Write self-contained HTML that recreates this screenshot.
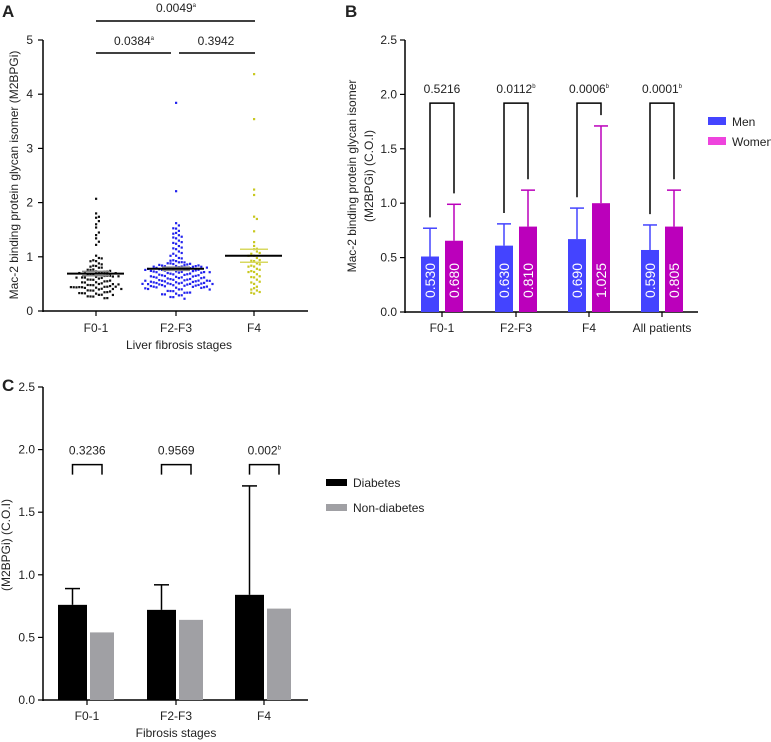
<!DOCTYPE html>
<html><head><meta charset="utf-8">
<style>
html,body{margin:0;padding:0;background:#fff;}
svg{display:block;font-family:"Liberation Sans",sans-serif;}
text{fill:#222;}
</style></head>
<body>
<svg id="root" width="771" height="742" viewBox="0 0 771 742">
<g id="pa"></g>
<g id="pb"></g>
<g id="pc"></g>
</svg>
<script>
// ---------- Panel A data ----------
const aCategories = ["F0-1","F2-F3","F4"];
const aTicks = [0,1,2,3,4,5];
const aF01 = [2.05,1.78,1.74,1.70,1.66,1.58,1.52,1.45,1.38,1.32,1.28,1.20,1.0,0.98,0.96,0.95,0.92,0.90,0.88,0.86,0.84,0.82,0.81,0.80,0.79,0.78,0.76,0.75,0.74,0.73,0.72,0.71,0.70,0.70,0.69,0.68,0.67,0.66,0.65,0.64,0.63,0.62,0.61,0.60,0.60,0.59,0.58,0.57,0.56,0.55,0.55,0.54,0.53,0.52,0.51,0.50,0.50,0.49,0.48,0.47,0.46,0.45,0.45,0.44,0.44,0.43,0.42,0.41,0.40,0.40,0.39,0.38,0.37,0.36,0.35,0.35,0.34,0.33,0.32,0.31,0.30,0.30,0.29,0.28,0.27,0.26,0.25,0.24,0.45,0.46,0.47,0.44,0.43,0.42,0.66,0.68,0.70,0.72,0.64,0.62];
const aF23 = [3.82,2.19,1.60,1.58,1.55,1.50,1.48,1.45,1.42,1.40,1.38,1.35,1.32,1.30,1.28,1.25,1.22,1.20,1.18,1.15,1.12,1.10,1.08,1.05,1.02,1.0,0.98,0.96,0.95,0.93,0.92,0.90,0.90,0.89,0.88,0.88,0.87,0.86,0.86,0.85,0.85,0.84,0.84,0.83,0.83,0.82,0.82,0.81,0.81,0.80,0.80,0.79,0.79,0.78,0.78,0.77,0.77,0.76,0.76,0.75,0.75,0.74,0.74,0.73,0.73,0.72,0.72,0.71,0.71,0.70,0.70,0.69,0.69,0.68,0.68,0.67,0.67,0.66,0.66,0.65,0.65,0.64,0.64,0.63,0.63,0.62,0.62,0.61,0.61,0.60,0.60,0.59,0.59,0.58,0.58,0.57,0.57,0.56,0.56,0.55,0.55,0.54,0.54,0.53,0.53,0.52,0.52,0.51,0.51,0.50,0.50,0.50,0.49,0.49,0.49,0.48,0.48,0.48,0.47,0.47,0.47,0.46,0.46,0.45,0.45,0.44,0.44,0.43,0.43,0.42,0.42,0.41,0.40,0.39,0.38,0.37,0.36,0.35,0.34,0.33,0.32,0.31,0.30,0.29,0.28,0.27,0.26,0.25,0.48,0.50,0.52,0.54,0.56,0.58,0.80,0.82,0.84,0.78,0.76,0.74];
const aF4 = [4.35,3.52,2.22,2.12,1.72,1.70,1.45,1.25,1.18,1.15,1.12,1.10,1.08,1.05,1.02,1.0,0.98,0.95,0.92,0.90,0.88,0.86,0.84,0.82,0.80,0.78,0.76,0.74,0.72,0.70,0.68,0.65,0.62,0.60,0.58,0.55,0.52,0.48,0.45,0.42,0.40,0.38,0.36,0.33,0.30];
const aMeans = [0.69,0.78,1.02];
const aSem = [0.04,0.03,0.12];
const aColors = ["#111111","#2222ee","#c8c820"];

// ---------- Panel B data ----------
const bCategories = ["F0-1","F2-F3","F4","All patients"];
const bTicks = [0,0.5,1.0,1.5,2.0,2.5];
const bMen = [0.51,0.61,0.67,0.57];
const bWomen = [0.655,0.785,1.0,0.785];
const bMenErr = [0.77,0.81,0.955,0.80];
const bWomenErr = [0.99,1.12,1.71,1.12];
const bMenLabels = ["0.530","0.630","0.690","0.590"];
const bWomenLabels = ["0.680","0.810","1.025","0.805"];
const bPvals = ["0.5216","0.0112","0.0006","0.0001"];
const bPsup = ["","b","b","b"];

// ---------- Panel C data ----------
const cCategories = ["F0-1","F2-F3","F4"];
const cTicks = [0,0.5,1.0,1.5,2.0,2.5];
const cDiab = [0.76,0.72,0.84];
const cDiabErr = [0.89,0.92,1.71];
const cNon = [0.54,0.64,0.73];
const cPvals = ["0.3236","0.9569","0.002"];
const cPsup = ["","","b"];

const NS="http://www.w3.org/2000/svg";
const FS=12;
function mk(parent,tag,attrs,txt){const e=document.createElementNS(NS,tag);for(const k in attrs)e.setAttribute(k,attrs[k]);if(txt!==undefined)e.textContent=txt;parent.appendChild(e);return e;}

// ================= PANEL A =================
(function(){
const g=document.getElementById('pa');
const x0=43,x1=308,yb=311,yt=40,ymax=5;
const y=v=>yb-(v/ymax)*(yb-yt);
const cx=[96,176,254];
let t=mk(g,'text',{x:2,y:17,'font-size':17,'font-weight':'bold'},'A');

let ax=mk(g,'line',{x1:x0,y1:yt,x2:x0,y2:yb+1,stroke:'#000','stroke-width':1.5});

ax=mk(g,'line',{x1:x0,y1:yb,x2:x1,y2:yb,stroke:'#000','stroke-width':1.5});

aTicks.forEach(v=>{
 let l=mk(g,'line',{x1:x0-5,y1:y(v),x2:x0,y2:y(v),stroke:'#000','stroke-width':1.2});
 
 let tx=mk(g,'text',{x:x0-10,y:y(v)+4,'font-size':FS,'text-anchor':'end'},String(v));
 
});
aCategories.forEach((c,i)=>{
 let l=mk(g,'line',{x1:cx[i],y1:yb,x2:cx[i],y2:yb+5,stroke:'#000','stroke-width':1.2});
 
 let tx=mk(g,'text',{x:cx[i],y:332,'font-size':FS,'text-anchor':'middle'},c);
 
});
t=mk(g,'text',{x:179,y:349,'font-size':FS,'text-anchor':'middle'},'Liver fibrosis stages');

t=mk(g,'text',{x:0,y:0,'font-size':FS,'text-anchor':'middle',transform:'translate(18,175) rotate(-90)'},'Mac-2 binding protein glycan isomer (M2BPGi)');

[aF01,aF23,aF4].forEach((arr,gi)=>{
 const rows={};
 arr.forEach(v=>{
  const r=Math.round(y(v)/5.5);
  const k=rows[r]||0; rows[r]=k+1;
  const off=(k%2?1:-1)*Math.ceil(k/2)*2.8;
  let d=mk(g,'rect',{x:cx[gi]+off-1,y:y(v)-1+((k%3)-1)*1.2,width:2.2,height:2.2,fill:aColors[gi]});
  
 });
 const mcol=gi===2?'#d8d860':'#888';
 [aMeans[gi]-aSem[gi],aMeans[gi]+aSem[gi]].forEach(v=>{
  let s=mk(g,'line',{x1:cx[gi]-14,y1:y(v),x2:cx[gi]+14,y2:y(v),stroke:mcol,'stroke-width':1.5});
  
 });
 let m=mk(g,'line',{x1:cx[gi]-29,y1:y(aMeans[gi]),x2:cx[gi]+28,y2:y(aMeans[gi]),stroke:'#000','stroke-width':2});
 
});
const sig=[[96,255,21,'0.0049','a',176,12],[96,171,53,'0.0384','a',134,45],[179,255,53,'0.3942','',216,45]];
sig.forEach(s=>{
 let l=mk(g,'line',{x1:s[0],y1:s[2],x2:s[1],y2:s[2],stroke:'#000','stroke-width':1.5});
 
 let tx=mk(g,'text',{x:s[5],y:s[6],'font-size':FS,'text-anchor':'middle'},s[3]);
 
 if(s[4]){mk(tx,'tspan',{'font-size':6,dy:-5},s[4]);}
});
})();

// ================= PANEL B =================
(function(){
const g=document.getElementById('pb');
const x0=405,x1=698,yb=312,yt=40,ymax=2.5;
const y=v=>yb-(v/ymax)*(yb-yt);
const cx=[442,516,589,662];
let t=mk(g,'text',{x:345,y:17,'font-size':17,'font-weight':'bold'},'B');

let ax=mk(g,'line',{x1:x0,y1:yt,x2:x0,y2:yb+1,stroke:'#000','stroke-width':1.5});

ax=mk(g,'line',{x1:x0,y1:yb,x2:x1,y2:yb,stroke:'#000','stroke-width':1.5});

bTicks.forEach(v=>{
 let l=mk(g,'line',{x1:x0-5,y1:y(v),x2:x0,y2:y(v),stroke:'#000','stroke-width':1.2});
 
 let tx=mk(g,'text',{x:x0-8,y:y(v)+4,'font-size':FS,'text-anchor':'end'},v.toFixed(1));
 
});
t=mk(g,'text',{x:0,y:0,'font-size':FS,'text-anchor':'middle',transform:'translate(356,176) rotate(-90)'},'Mac-2 binding protein glycan isomer');

t=mk(g,'text',{x:0,y:0,'font-size':FS,'text-anchor':'middle',transform:'translate(373,176) rotate(-90)'},'(M2BPGi) (C.O.I)');

bCategories.forEach((c,i)=>{
 let l=mk(g,'line',{x1:cx[i],y1:yb,x2:cx[i],y2:yb+5,stroke:'#000','stroke-width':1.2});
 
 let tx=mk(g,'text',{x:cx[i],y:332,'font-size':FS,'text-anchor':'middle'},c);
 
 const mx=cx[i]-21, wx=cx[i]+3, bw=18;
 [[mx,bMenErr[i],bMen[i],'#4444ff'],[wx,bWomenErr[i],bWomen[i],'#bb00bb']].forEach(e=>{
  let v=mk(g,'line',{x1:e[0]+bw/2,y1:y(e[1]),x2:e[0]+bw/2,y2:y(e[2]),stroke:e[3],'stroke-width':1.5});
  
  let h=mk(g,'line',{x1:e[0]+2,y1:y(e[1]),x2:e[0]+bw-2,y2:y(e[1]),stroke:e[3],'stroke-width':1.5});
  
 });
 let r=mk(g,'rect',{x:mx,y:y(bMen[i]),width:bw,height:yb-y(bMen[i]),fill:'#4444ff'});
 
 r=mk(g,'rect',{x:wx,y:y(bWomen[i]),width:bw,height:yb-y(bWomen[i]),fill:'#bb00bb'});
 
 let lt=mk(g,'text',{x:0,y:0,'font-size':14,transform:`translate(${mx+bw/2+5},${yb-14}) rotate(-90)`},bMenLabels[i]);
 lt.style.fill='#fff';
 
 lt=mk(g,'text',{x:0,y:0,'font-size':14,transform:`translate(${wx+bw/2+5},${yb-14}) rotate(-90)`},bWomenLabels[i]);
 lt.style.fill='#fff';
 
 const top=1.92, lx=mx+bw/2, rx=wx+bw/2;
 let p=mk(g,'polyline',{points:`${lx},${y(bMenErr[i]+0.1)} ${lx},${y(top)} ${rx},${y(top)} ${rx},${y(bWomenErr[i]+0.1)}`,fill:'none',stroke:'#000','stroke-width':1.5});
 
 let pt=mk(g,'text',{x:(lx+rx)/2,y:y(top)-10,'font-size':FS,'text-anchor':'middle'},bPvals[i]);
 
 if(bPsup[i])mk(pt,'tspan',{'font-size':6,dy:-5},bPsup[i]);
});
[['Men','#4444ff',122],['Women','#ee44dd',142]].forEach(l=>{
 let s=mk(g,'rect',{x:708,y:l[2]-5,width:18,height:8,fill:l[1]});
 
 let tx=mk(g,'text',{x:732,y:l[2]+4,'font-size':FS},l[0]);
 
});
})();

// ================= PANEL C =================
(function(){
const g=document.getElementById('pc');
const x0=43,x1=308,yb=700,yt=387,ymax=2.5;
const y=v=>yb-(v/ymax)*(yb-yt);
const cx=[87,176,264];
let t=mk(g,'text',{x:2,y:391,'font-size':17,'font-weight':'bold'},'C');

let ax=mk(g,'line',{x1:x0,y1:yt,x2:x0,y2:yb+1,stroke:'#000','stroke-width':1.5});

ax=mk(g,'line',{x1:x0,y1:yb,x2:x1,y2:yb,stroke:'#000','stroke-width':1.5});

cTicks.forEach(v=>{
 let l=mk(g,'line',{x1:x0-5,y1:y(v),x2:x0,y2:y(v),stroke:'#000','stroke-width':1.2});
 
 let tx=mk(g,'text',{x:x0-8,y:y(v)+4,'font-size':FS,'text-anchor':'end'},v.toFixed(1));
 
});
t=mk(g,'text',{x:0,y:0,'font-size':FS,'text-anchor':'middle',transform:'translate(10,545) rotate(-90)'},'(M2BPGi) (C.O.I)');

t=mk(g,'text',{x:176,y:737,'font-size':FS,'text-anchor':'middle'},'Fibrosis stages');

cCategories.forEach((c,i)=>{
 let l=mk(g,'line',{x1:cx[i],y1:yb,x2:cx[i],y2:yb+5,stroke:'#000','stroke-width':1.2});
 
 let tx=mk(g,'text',{x:cx[i],y:720,'font-size':FS,'text-anchor':'middle'},c);
 
 const dx=cx[i]-29, nx=cx[i]+3;
 let e=mk(g,'line',{x1:dx+14.5,y1:y(cDiabErr[i]),x2:dx+14.5,y2:y(cDiab[i]),stroke:'#000','stroke-width':1.5});
 
 e=mk(g,'line',{x1:dx+7,y1:y(cDiabErr[i]),x2:dx+22,y2:y(cDiabErr[i]),stroke:'#000','stroke-width':1.5});
 
 let r=mk(g,'rect',{x:dx,y:y(cDiab[i]),width:29,height:yb-y(cDiab[i]),fill:'#000'});
 
 r=mk(g,'rect',{x:nx,y:y(cNon[i]),width:24,height:yb-y(cNon[i]),fill:'#a0a0a4'});
 
 const lx=dx+14.5, rx=nx+12;
 let p=mk(g,'polyline',{points:`${lx},${y(1.8)} ${lx},${y(1.88)} ${rx},${y(1.88)} ${rx},${y(1.8)}`,fill:'none',stroke:'#000','stroke-width':1.5});
 
 let pt=mk(g,'text',{x:(lx+rx)/2,y:y(1.88)-10,'font-size':FS,'text-anchor':'middle'},cPvals[i]);
 
 if(cPsup[i])mk(pt,'tspan',{'font-size':6,dy:-5},cPsup[i]);
});
[['Diabetes','#000',483],['Non-diabetes','#a0a0a4',508]].forEach(l=>{
 let s=mk(g,'rect',{x:326,y:l[2]-4,width:21,height:7,fill:l[1]});
 
 let tx=mk(g,'text',{x:353,y:l[2]+4,'font-size':FS},l[0]);
 
});
})();
</script>
</body></html>
